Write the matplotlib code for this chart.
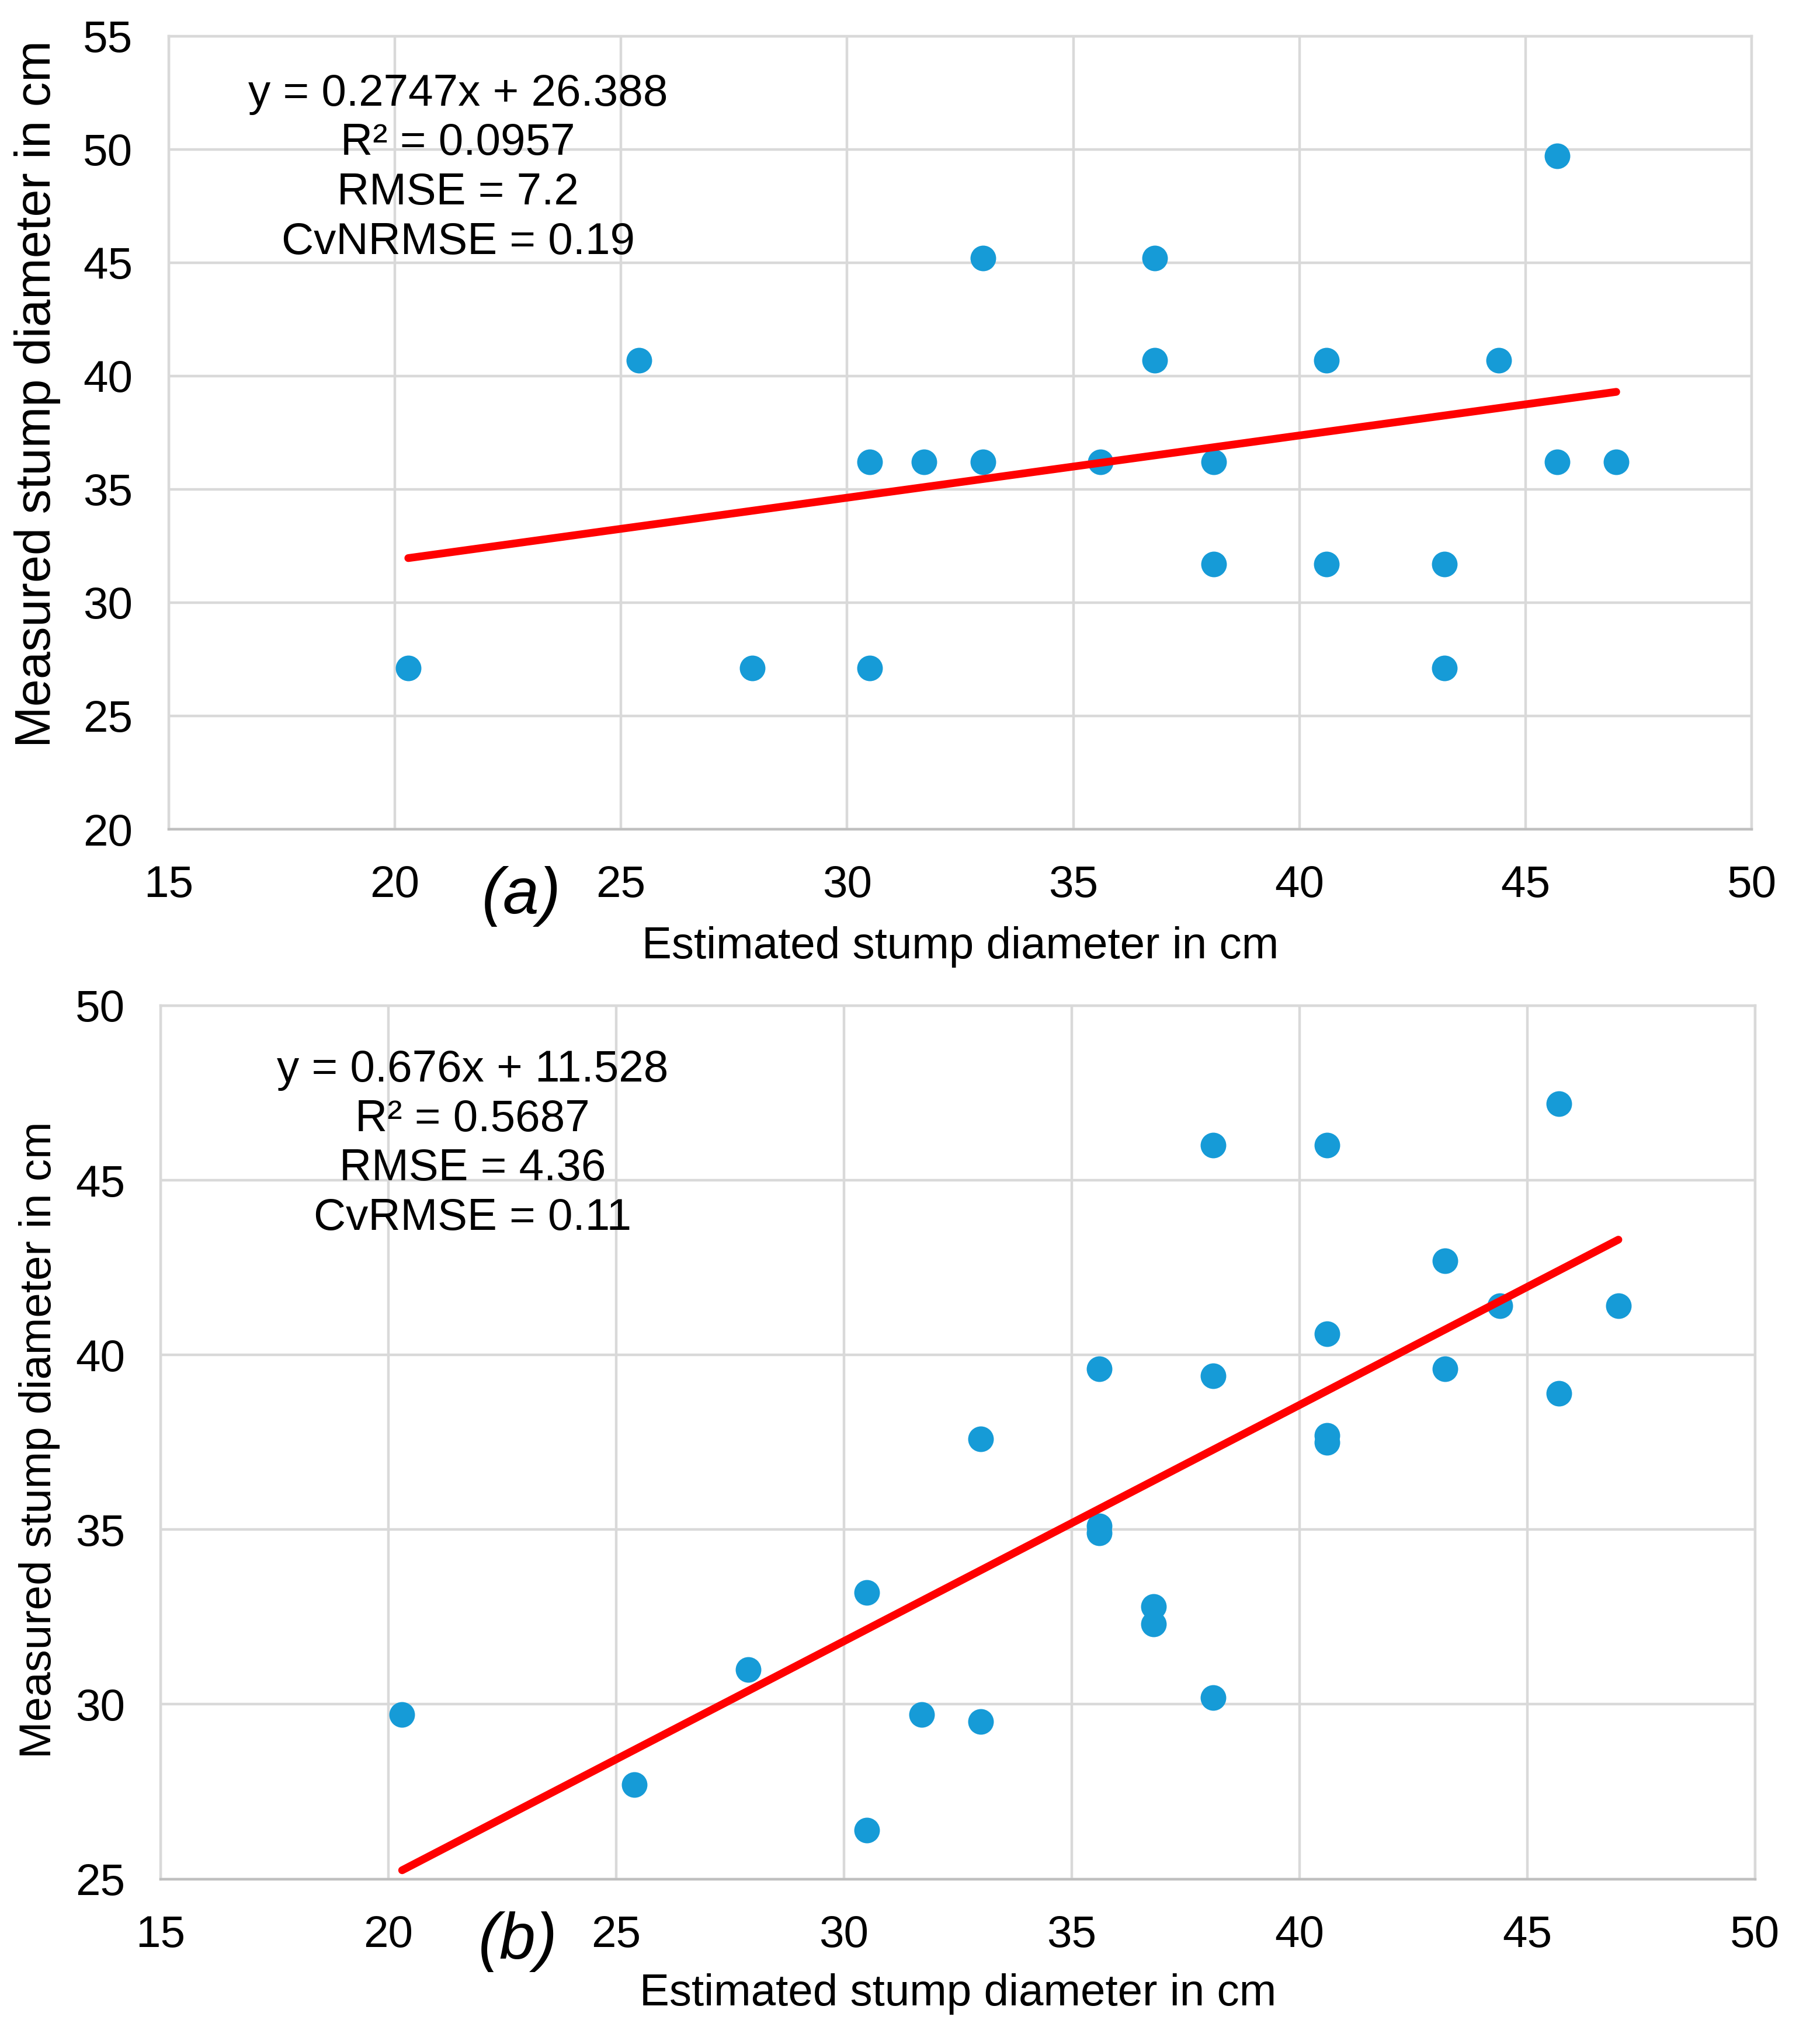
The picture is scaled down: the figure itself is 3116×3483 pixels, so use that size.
import numpy as np
import matplotlib
matplotlib.use("Agg")
import matplotlib.pyplot as plt

plt.rcParams["font.family"] = ["Liberation Sans", "DejaVu Sans"]

# panel (a): estimated vs measured (quantised measurements)
est_a = [20.3, 25.4, 27.9, 30.5, 30.5, 31.7, 33.0, 33.0, 35.6, 36.8, 36.8,
         38.1, 38.1, 40.6, 40.6, 43.2, 43.2, 44.4, 45.7, 45.7, 47.0]
meas_a = [27.1, 40.7, 27.1, 27.1, 36.2, 36.2, 36.2, 45.2, 36.2, 45.2, 40.7,
          36.2, 31.7, 40.7, 31.7, 31.7, 27.1, 40.7, 49.7, 36.2, 36.2]
coef_a = (0.2747, 26.388)
stats_a = ["y = 0.2747x + 26.388", "R² = 0.0957", "RMSE = 7.2", "CvNRMSE = 0.19"]

# panel (b)
est_b = [20.3, 25.4, 27.9, 30.5, 30.5, 31.7, 33.0, 33.0, 35.6, 35.6, 35.6,
         36.8, 36.8, 38.1, 38.1, 38.1, 40.6, 40.6, 40.6, 40.6, 43.2, 43.2,
         44.4, 45.7, 45.7, 47.0]
meas_b = [29.7, 27.7, 31.0, 33.2, 26.4, 29.7, 29.5, 37.6, 39.6, 35.1, 34.9,
          32.8, 32.3, 46.0, 39.4, 30.2, 46.0, 40.6, 37.7, 37.5, 42.7, 39.6,
          41.4, 47.2, 38.9, 41.4]
coef_b = (0.676, 11.528)
stats_b = ["y = 0.676x + 11.528", "R² = 0.5687", "RMSE = 4.36", "CvRMSE = 0.11"]

xticks = [15, 20, 25, 30, 35, 40, 45, 50]
yticks_a = [20, 25, 30, 35, 40, 45, 50, 55]
yticks_b = [25, 30, 35, 40, 45, 50]

DOT = "#169BD7"
GRID = "#D9D9D9"
FS = 27.5

fig = plt.figure(figsize=(15.58, 17.415), dpi=200)
ax_a = fig.add_axes([0.0926, 0.5923, 0.870, 0.390])
ax_b = fig.add_axes([0.0883, 0.0762, 0.876, 0.4294])


def draw(ax, x, y, coef, stats, yticks, txt_xy, tag, tag_xy, ylab_xy, xlab_y,
         ylab_fs=FS):
    ax.set_xlim(xticks[0], xticks[-1])
    ax.set_ylim(yticks[0], yticks[-1])
    ax.set_xticks(xticks)
    ax.set_yticks(yticks)
    ax.grid(True, color=GRID, lw=1.6)
    ax.set_axisbelow(True)
    for s in ax.spines.values():
        s.set_color(GRID)
        s.set_linewidth(1.6)
    ax.spines["bottom"].set_color("#BFBFBF")
    ax.tick_params(length=0, labelsize=FS, pad=22)

    ax.scatter(x, y, s=250, color=DOT, zorder=3, linewidths=0)
    xs = np.array([min(x), max(x)])
    ax.plot(xs, coef[0] * xs + coef[1], color="#FF0000", lw=4.8,
            solid_capstyle="round", zorder=4)

    ax.text(txt_xy[0], txt_xy[1], "\n".join(stats), ha="center", va="top",
            fontsize=FS, linespacing=1.25)
    ax.text(tag_xy[0], tag_xy[1], tag, transform=ax.transAxes, ha="center",
            va="center", fontsize=40, style="italic")

    ax.set_xlabel("Estimated stump diameter in cm", fontsize=FS)
    ax.set_ylabel("Measured stump diameter in cm", fontsize=ylab_fs)
    ax.xaxis.set_label_coords(0.5, xlab_y)
    ax.yaxis.set_label_coords(*ylab_xy)


draw(ax_a, est_a, meas_a, coef_a, stats_a, yticks_a, (21.4, 53.35), "(a)",
     (0.223, -0.085), (-0.068, 0.549), -0.122, ylab_fs=30.5)
draw(ax_b, est_b, meas_b, coef_b, stats_b, yticks_b, (21.85, 48.75), "(b)",
     (0.224, -0.072), (-0.063, 0.503), -0.108)

fig.savefig("out.png", dpi=200, facecolor="white")
